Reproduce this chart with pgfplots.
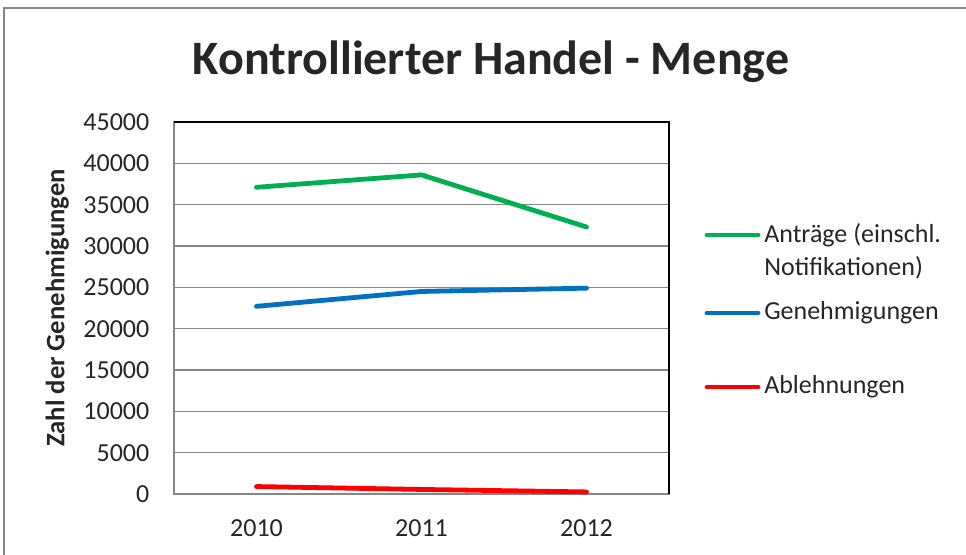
\documentclass[border=0pt]{standalone}
\usepackage{pgfplots}
\pgfplotsset{compat=1.18}
\usepackage{fontspec}
\setmainfont{Carlito}
\definecolor{cgreen}{HTML}{00B050}
\definecolor{cblue}{HTML}{0070C0}
\definecolor{cred}{HTML}{FF0000}
\definecolor{cgrid}{HTML}{868686}
\definecolor{ctext}{HTML}{262626}

\begin{document}
\begin{tikzpicture}[x=0.75pt,y=0.75pt]
% page frame: 966 x 555 px
\path[use as bounding box] (0,0) rectangle (966,555);
\draw[cgrid, line width=1.5pt] (4,0) -- (4,547) -- (966,547);
\coordinate (A) at (174,61);

\node[font=\bfseries\fontsize{36}{42}\selectfont, text=ctext] at (491,493) {Kontrollierter Handel - Menge};

\begin{axis}[
  at={(A)}, anchor=south west,
  scale only axis,
  width=371.25pt, height=279pt,
  xmin=-0.5, xmax=2.5,
  ymin=0, ymax=45000,
  xtick={0,1,2},
  xticklabels={2010,2011,2012},
  ytick={0,5000,...,45000},
  major tick length=0pt,
  scaled y ticks=false,
  /pgf/number format/assume math mode=true,
  yticklabel style={/pgf/number format/1000 sep={}, xshift=-15pt},
  tick label style={font=\fontsize{19.5}{22}\selectfont, text=ctext},
  xticklabel style={yshift=-16pt},
  ymajorgrids, grid style={cgrid, line width=1.2pt},
  axis line style={cgrid, line width=1.2pt},
  ylabel={Zahl der Genehmigungen},
  ylabel style={font=\bfseries\fontsize{20}{22}\selectfont, text=ctext,
    at={(axis description cs:-0.236,0.5)}, anchor=center},
  clip=false,
]
\addplot[cgreen, line width=3.6pt, line cap=round] coordinates {(0,37100) (1,38600) (2,32300)};
\addplot[cblue, line width=3.6pt, line cap=round] coordinates {(0,22700) (1,24500) (2,24900)};
\addplot[cred, line width=3.6pt, line cap=round] coordinates {(0,900) (1,550) (2,250)};
\draw[black, line width=1.2pt] (rel axis cs:0,1) -- (rel axis cs:1,1) -- (rel axis cs:1,0);
\end{axis}

% legend
\begin{scope}[every node/.style={anchor=west, inner sep=0pt, font=\fontsize{19.5}{22}\selectfont, text=ctext}]
\draw[cgreen, line width=3.6pt, line cap=round] (707,320) -- (758,320);
\node at (764,320) {Anträge (einschl.};
\node at (764,287) {Notifikationen)};
\draw[cblue, line width=3.6pt, line cap=round] (707,242) -- (758,242);
\node at (764,242) {Genehmigungen};
\draw[cred, line width=3.6pt, line cap=round] (707,168) -- (758,168);
\node at (764,168) {Ablehnungen};
\end{scope}
\end{tikzpicture}
\end{document}
